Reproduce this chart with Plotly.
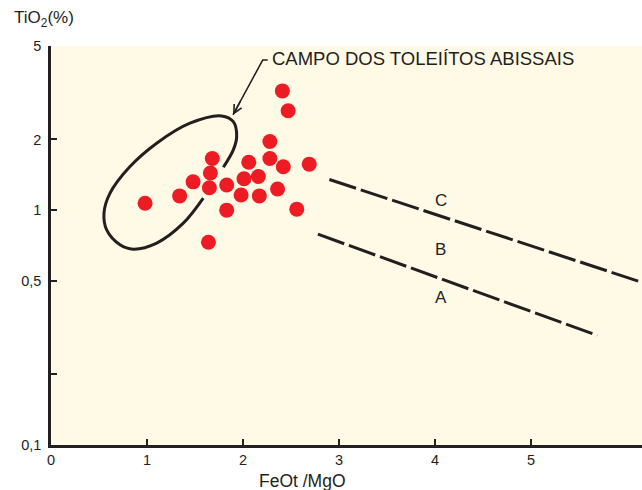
import numpy as np
import plotly.graph_objects as go

# Samples: FeOt/MgO ratio vs TiO2 (%)
feo_mgo = [0.98, 1.34, 1.48, 1.68, 1.66, 1.65, 1.83, 1.83, 1.64, 2.06, 2.01,
           2.16, 1.98, 2.17, 2.28, 2.28, 2.42, 2.36, 2.56, 2.69, 2.41, 2.47]
tio2 = [1.07, 1.15, 1.32, 1.66, 1.44, 1.245, 1.28, 1.00, 0.73, 1.60, 1.36,
        1.39, 1.16, 1.15, 1.96, 1.66, 1.53, 1.23, 1.01, 1.57, 3.22, 2.65]

# Abyssal tholeiite field outline (open on the lower-right side)
field_x = [1.586, 1.378, 1.101, 0.857, 0.719, 0.580, 0.552, 0.615, 0.823,
           1.101, 1.448, 1.778, 1.899, 1.934, 1.899, 1.795]
field_y = [1.125, 0.880, 0.724, 0.682, 0.712, 0.824, 0.971, 1.181, 1.533,
           1.928, 2.345, 2.519, 2.381, 2.056, 1.805, 1.523]

# Field boundaries (dashed lines separating A, B, C)
line_cb_x = [2.90, 6.156]
line_cb_y = [1.35, 0.4926]
line_ba_x = [2.78, 5.69]
line_ba_y = [0.79, 0.2927]

field_labels = ["C", "B", "A"]
field_label_x = [4.06, 4.06, 4.06]
field_label_y = [1.104, 0.682, 0.4255]

# leader from the field name to the outline (stub, elbow, tip)
leader_x = [2.257, 2.205, 1.896]
leader_y = [4.357, 4.357, 2.543]

x_ticks = [0, 1, 2, 3, 4, 5]
y_ticks = [0.1, 0.2, 0.5, 1, 2, 5]
y_tick_text = ["0,1", "", "0,5", "1", "2", "5"]

INK = "#231F20"
RED = "#ED1C24"
BG = "#FFFAE6"
FONT = "Liberation Sans, Arial, sans-serif"

L, T, B = 51, 46, 44.5
W, H = 642, 490
PW = W - L
PH = H - T - B
X_MAX = 6.156
LOG_MIN, LOG_MAX = -1.0, np.log10(5)

fig = go.Figure()

fig.add_trace(go.Scatter(x=field_x, y=field_y, mode="lines",
                         line=dict(color=INK, width=3, shape="spline",
                                   smoothing=1.0),
                         hoverinfo="skip"))

for lx, ly in [(line_cb_x, line_cb_y), (line_ba_x, line_ba_y)]:
    fig.add_trace(go.Scatter(x=lx, y=ly, mode="lines",
                             line=dict(color=INK, width=3, dash="28px,5px"),
                             hoverinfo="skip"))

fig.add_trace(go.Scatter(x=feo_mgo, y=tio2, mode="markers",
                         marker=dict(color=RED, size=15, line=dict(width=0))))

fig.add_trace(go.Scatter(x=leader_x, y=leader_y, mode="lines",
                         line=dict(color=INK, width=1.5), hoverinfo="skip"))

# arrowhead at the leader tip, aligned with the leader direction
annotations = [
    dict(x=leader_x[-1], y=np.log10(leader_y[-1]), xref="x", yref="y",
         text="", font=dict(size=1), showarrow=True, ax=8.1, ay=-15,
         arrowhead=5, arrowsize=1.1, arrowwidth=1.5, arrowcolor=INK),
    dict(x=2.28, y=np.log10(4.43), xref="x", yref="y",
         text="CAMPO DOS TOLEIÍTOS ABISSAIS", showarrow=False,
         xanchor="left", yanchor="middle", font=dict(size=18.5, color=INK)),
    dict(x=-0.0665, y=1 + (T - 19) / PH, xref="paper", yref="paper",
         text="TiO<sub>2</sub>(%)", showarrow=False, xanchor="left",
         yanchor="middle", font=dict(size=17, color=INK)),
    dict(x=(302.5 - L) / PW, y=-(481.7 - (H - B)) / PH, xref="paper",
         yref="paper", text="FeOt /MgO", showarrow=False, xanchor="center",
         yanchor="middle", font=dict(size=17.5, color=INK)),
]
for lab, lx, ly in zip(field_labels, field_label_x, field_label_y):
    annotations.append(dict(x=lx, y=np.log10(ly), xref="x", yref="y", text=lab,
                            showarrow=False, font=dict(size=17, color=INK)))

fig.update_layout(
    width=W, height=H,
    margin=dict(l=L, r=0, t=T, b=B, pad=0),
    paper_bgcolor="white", plot_bgcolor=BG,
    showlegend=False,
    font=dict(family=FONT, color=INK),
    annotations=annotations,
    xaxis=dict(range=[0, X_MAX], tickvals=x_ticks, ticks="inside",
               ticklen=6, tickwidth=2, tickcolor=INK, showline=True,
               linecolor=INK, linewidth=2.5, showgrid=False, zeroline=False,
               tickfont=dict(size=14.5, color=INK)),
    yaxis=dict(type="log", range=[LOG_MIN, LOG_MAX], tickvals=y_ticks,
               ticktext=y_tick_text, ticks="inside", ticklen=6, tickwidth=2,
               tickcolor=INK, showline=True, linecolor=INK, linewidth=2.5,
               showgrid=False, zeroline=False, ticklabelstandoff=4,
               tickfont=dict(size=14.5, color=INK)),
)

fig.write_html("out.html")
